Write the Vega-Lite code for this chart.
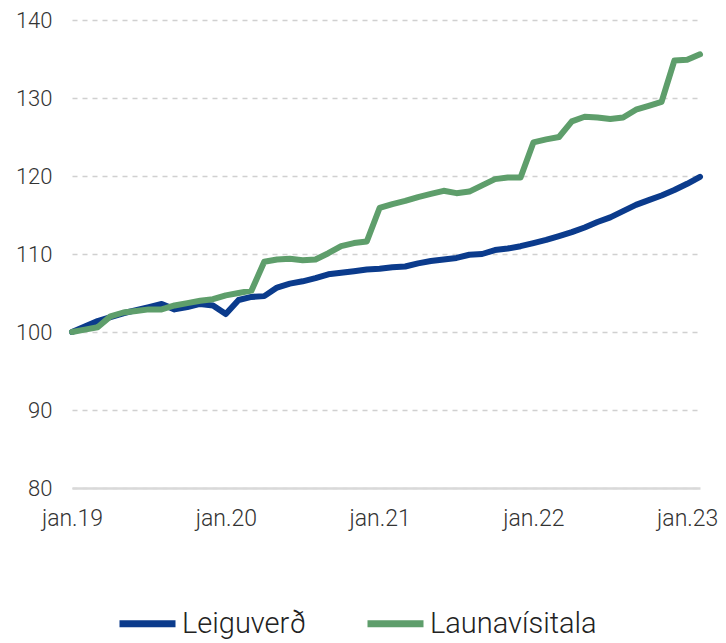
{
  "$schema": "https://vega.github.io/schema/vega-lite/v6.json",
  "autosize": "none",
  "width": 628,
  "height": 468,
  "padding": {"left": 72, "top": 20, "right": 26, "bottom": 155},
  "background": "white",
  "config": {
    "view": {"stroke": null},
    "font": "Roboto",
    "axis": {"labelFont": "Roboto", "labelColor": "#333333"},
    "legend": {"labelFont": "Roboto"}
  },
  "data": {
    "values": [
      {"m": "2019-01", "Leiguverð": 100.0, "Launavísitala": 100.0},
      {"m": "2019-02", "Leiguverð": 100.7, "Launavísitala": 100.3},
      {"m": "2019-03", "Leiguverð": 101.4, "Launavísitala": 100.6},
      {"m": "2019-04", "Leiguverð": 101.9, "Launavísitala": 102.0},
      {"m": "2019-05", "Leiguverð": 102.4, "Launavísitala": 102.5},
      {"m": "2019-06", "Leiguverð": 102.8, "Launavísitala": 102.7},
      {"m": "2019-07", "Leiguverð": 103.2, "Launavísitala": 102.9},
      {"m": "2019-08", "Leiguverð": 103.6, "Launavísitala": 102.9},
      {"m": "2019-09", "Leiguverð": 102.9, "Launavísitala": 103.4},
      {"m": "2019-10", "Leiguverð": 103.2, "Launavísitala": 103.7},
      {"m": "2019-11", "Leiguverð": 103.6, "Launavísitala": 104.0},
      {"m": "2019-12", "Leiguverð": 103.4, "Launavísitala": 104.2},
      {"m": "2020-01", "Leiguverð": 102.3, "Launavísitala": 104.7},
      {"m": "2020-02", "Leiguverð": 104.1, "Launavísitala": 105.0},
      {"m": "2020-03", "Leiguverð": 104.5, "Launavísitala": 105.3},
      {"m": "2020-04", "Leiguverð": 104.6, "Launavísitala": 109.0},
      {"m": "2020-05", "Leiguverð": 105.7, "Launavísitala": 109.3},
      {"m": "2020-06", "Leiguverð": 106.2, "Launavísitala": 109.4},
      {"m": "2020-07", "Leiguverð": 106.5, "Launavísitala": 109.2},
      {"m": "2020-08", "Leiguverð": 106.9, "Launavísitala": 109.3},
      {"m": "2020-09", "Leiguverð": 107.4, "Launavísitala": 110.1},
      {"m": "2020-10", "Leiguverð": 107.6, "Launavísitala": 111.0},
      {"m": "2020-11", "Leiguverð": 107.8, "Launavísitala": 111.4},
      {"m": "2020-12", "Leiguverð": 108.0, "Launavísitala": 111.6},
      {"m": "2021-01", "Leiguverð": 108.1, "Launavísitala": 115.9},
      {"m": "2021-02", "Leiguverð": 108.3, "Launavísitala": 116.4},
      {"m": "2021-03", "Leiguverð": 108.4, "Launavísitala": 116.8},
      {"m": "2021-04", "Leiguverð": 108.8, "Launavísitala": 117.3},
      {"m": "2021-05", "Leiguverð": 109.1, "Launavísitala": 117.7},
      {"m": "2021-06", "Leiguverð": 109.3, "Launavísitala": 118.1},
      {"m": "2021-07", "Leiguverð": 109.5, "Launavísitala": 117.8},
      {"m": "2021-08", "Leiguverð": 109.9, "Launavísitala": 118.0},
      {"m": "2021-09", "Leiguverð": 110.0, "Launavísitala": 118.8},
      {"m": "2021-10", "Leiguverð": 110.5, "Launavísitala": 119.6},
      {"m": "2021-11", "Leiguverð": 110.7, "Launavísitala": 119.8},
      {"m": "2021-12", "Leiguverð": 111.0, "Launavísitala": 119.8},
      {"m": "2022-01", "Leiguverð": 111.4, "Launavísitala": 124.3},
      {"m": "2022-02", "Leiguverð": 111.8, "Launavísitala": 124.7},
      {"m": "2022-03", "Leiguverð": 112.3, "Launavísitala": 125.0},
      {"m": "2022-04", "Leiguverð": 112.8, "Launavísitala": 127.0},
      {"m": "2022-05", "Leiguverð": 113.4, "Launavísitala": 127.6},
      {"m": "2022-06", "Leiguverð": 114.1, "Launavísitala": 127.5},
      {"m": "2022-07", "Leiguverð": 114.7, "Launavísitala": 127.3},
      {"m": "2022-08", "Leiguverð": 115.5, "Launavísitala": 127.5},
      {"m": "2022-09", "Leiguverð": 116.3, "Launavísitala": 128.5},
      {"m": "2022-10", "Leiguverð": 116.9, "Launavísitala": 129.0},
      {"m": "2022-11", "Leiguverð": 117.5, "Launavísitala": 129.5},
      {"m": "2022-12", "Leiguverð": 118.2, "Launavísitala": 134.8},
      {"m": "2023-01", "Leiguverð": 119.0, "Launavísitala": 134.9},
      {"m": "2023-02", "Leiguverð": 119.9, "Launavísitala": 135.6}
    ]
  },
  "transform": [
    {"fold": ["Leiguverð", "Launavísitala"], "as": ["rod", "gildi"]}
  ],
  "mark": {"type": "line", "strokeWidth": 6, "strokeJoin": "round", "strokeCap": "round"},
  "encoding": {
    "x": {
      "field": "m",
      "type": "ordinal",
      "sort": null,
      "scale": {"type": "point", "padding": 0},
      "axis": {
        "title": null,
        "values": ["2019-01", "2020-01", "2021-01", "2022-01", "2023-01"],
        "labelExpr": "'jan.' + slice(datum.value, 2, 4)",
        "labelAngle": 0,
        "labelFontSize": 23,
        "labelFontWeight": 300,
        "labelPadding": 19,
        "ticks": false,
        "grid": false,
        "domain": true,
        "domainColor": "#d9d9d9",
        "domainWidth": 2.5
      }
    },
    "y": {
      "field": "gildi",
      "type": "quantitative",
      "scale": {"domain": [80, 140], "nice": false, "zero": false},
      "axis": {
        "title": null,
        "values": [80, 90, 100, 110, 120, 130, 140],
        "labelFontSize": 22,
        "labelFontWeight": 300,
        "labelPadding": 20,
        "ticks": false,
        "domain": false,
        "grid": true,
        "gridColor": "#d0d0d0",
        "gridDash": [5, 5],
        "gridWidth": 1.5
      }
    },
    "color": {
      "field": "rod",
      "type": "nominal",
      "sort": ["Leiguverð", "Launavísitala"],
      "scale": {"domain": ["Leiguverð", "Launavísitala"], "range": ["#0b3b8c", "#5e9e6b"]},
      "legend": {
        "title": null,
        "orient": "none",
        "direction": "horizontal",
        "legendX": 44,
        "legendY": 572,
        "padding": 0,
        "symbolType": "stroke",
        "symbolSize": 3136,
        "symbolStrokeWidth": 7,
        "labelFontSize": 29,
        "labelFontWeight": 300,
        "labelColor": "#222222",
        "labelOffset": 3,
        "labelLimit": 400,
        "columnPadding": 46
      }
    }
  }
}
